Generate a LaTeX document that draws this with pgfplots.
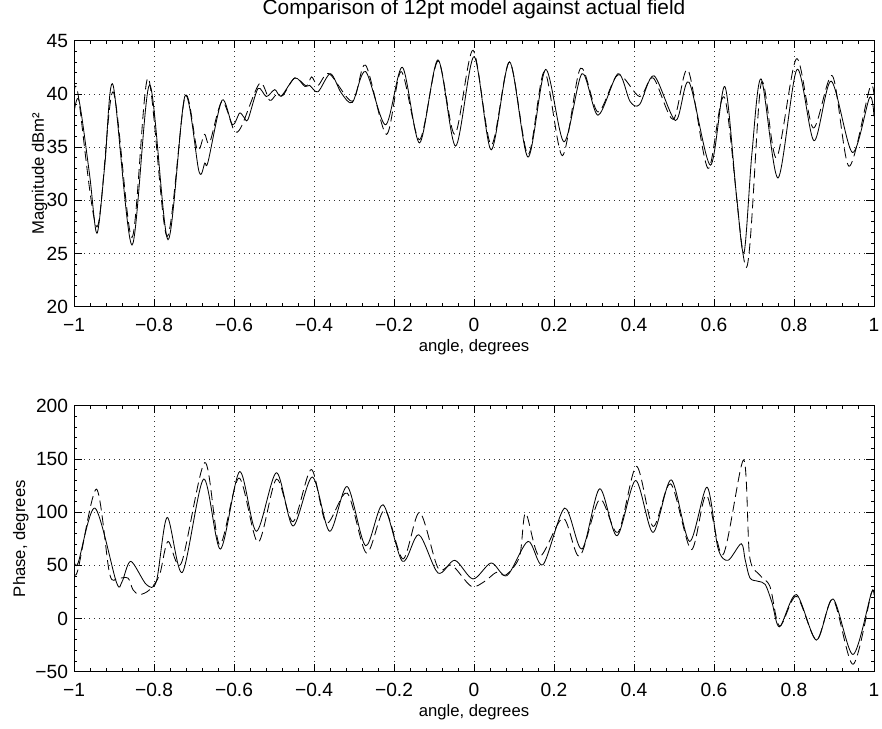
\documentclass[border=0pt]{standalone}
\usepackage{fontspec}
\setmainfont{Liberation Sans}
\usepackage{pgfplots}
\pgfplotsset{compat=1.18}

% 1 px of the reference = 0.6pt
\newcommand{\ffont}{\fontsize{11.5}{13.5}\selectfont}
\newcommand{\lfont}{\fontsize{12}{14}\selectfont}
\pgfplotsset{
  mat/.style={
    width=480pt, height=159.6pt, scale only axis,
    xmin=-1, xmax=1,
    xtick={-1,-0.8,-0.6,-0.4,-0.2,0,0.2,0.4,0.6,0.8,1},
    xticklabels={−1,−0.8,−0.6,−0.4,−0.2,0,0.2,0.4,0.6,0.8,1},
    /pgf/number format/assume math mode=true,
    tick align=inside,
    major tick length=4.6pt,
    minor tick length=2pt,
    minor tick num=4,
    grid=major,
    major grid style={black!80, line width=0.4pt, dash pattern=on 0.6pt off 2.4pt},
    axis line style={line width=0.5pt},
    every tick/.style={black, line width=0.4pt},
    tick label style={font=\ffont},
    label style={font=\lfont},
    title style={font=\fontsize{12.5}{14}\selectfont, inner sep=0pt, at={(axis description cs:0.5,1.0627)}, anchor=base},
    xticklabel style={anchor=base, yshift=-15pt},
    yticklabel style={anchor=east, inner sep=0pt, xshift=-3.4pt},
    every axis x label/.style={at={(axis description cs:0.5,-0.1692)}, anchor=base, inner sep=0pt},
    xlabel={angle, degrees},
  },
  solidc/.style={black, line width=0.5pt, mark=none, smooth},
  dashc/.style={black, line width=0.5pt, mark=none, smooth, dash pattern=on 6pt off 3pt},
}

\begin{document}
\begin{tikzpicture}
\path[use as bounding box] (-44.4pt,24.42pt) rectangle (484.8pt,-412.38pt);

\begin{axis}[mat,
  at={(0,0)}, anchor=north west,
  ymin=20, ymax=45, ytick={20,25,30,35,40,45},
  title={Comparison of 12pt model against actual field},
  every axis y label/.style={at={(axis description cs:-0.0375,0.5)}, anchor=base, rotate=90, inner sep=0pt},
  ylabel={Magnitude dBm²},
]
\addplot[solidc] coordinates {
(-1,38.2) (-0.9875,39.4) (-0.961,32.4) (-0.9425,26.9) (-0.923,33.3) (-0.9025,40.85)
(-0.855,25.8) (-0.811,40.85) (-0.765,26.3) (-0.7225,39.8) (-0.6875,32.7)
(-0.673,33.5) (-0.665,33.6) (-0.63,39.4) (-0.604,37.1) (-0.586,38.2) (-0.575,37.8)
(-0.565,37.6) (-0.54,40.5) (-0.519,39.75) (-0.498,40.4) (-0.482,39.8) (-0.448,41.5)
(-0.423,40.7) (-0.411,40.8) (-0.39,40.2) (-0.359,41.9) (-0.332,40.1) (-0.304,39.2)
(-0.271,42.1) (-0.221,37.1) (-0.179,42.5) (-0.136,35.4) (-0.09,43.2) (-0.046,35.1)
(0,43.5) (0.043,34.75) (0.089,43.0) (0.135,34.06) (0.179,42.3) (0.225,35.5)
(0.27,41.9) (0.31,38.0) (0.36,41.9) (0.39,39.3) (0.414,39.0) (0.45,41.7)
(0.504,37.5) (0.5375,41.1) (0.591,33.3) (0.627,40.7) (0.656,30.5) (0.675,25.06)
(0.695,34.5) (0.718,41.4) (0.76,32.1) (0.8075,42.3) (0.85,35.6) (0.893,41.2)
(0.946,34.5) (0.989,39.66) (1,37.9)
};
\addplot[dashc] coordinates {
(-1,39.9) (-0.99,40.0) (-0.9425,27.5) (-0.9025,40.2) (-0.855,26.5) (-0.815,41.5)
(-0.7675,26.6) (-0.7225,39.75) (-0.692,34.75) (-0.674,36.2) (-0.661,35.4)
(-0.63,39.3) (-0.6,36.6) (-0.582,36.9) (-0.536,41.0) (-0.511,39.4) (-0.495,39.9)
(-0.478,39.85) (-0.448,41.5) (-0.419,40.75) (-0.406,41.6) (-0.39,40.8) (-0.362,41.9)
(-0.304,39.3) (-0.271,42.7) (-0.219,36.2) (-0.182,42.1) (-0.136,35.7) (-0.09,43.1)
(-0.048,36.2) (-0.0025,44.1) (0.043,35.2) (0.089,43.0) (0.135,34.3) (0.176,42.1)
(0.221,34.2) (0.266,42.4) (0.31,38.3) (0.36,41.8) (0.414,39.75) (0.448,41.5)
(0.498,37.6) (0.535,42.25) (0.585,33.0) (0.627,39.6) (0.681,23.7) (0.718,41.0)
(0.756,34.0) (0.806,43.3) (0.848,36.8) (0.896,41.7) (0.9375,33.2) (0.989,40.5) (1,39.9)
};
\end{axis}

\begin{axis}[mat,
  at={(0,-219pt)}, anchor=north west,
  ymin=-50, ymax=200, ytick={-50,0,50,100,150,200},
  yticklabels={−50,0,50,100,150,200},
  every axis y label/.style={at={(axis description cs:-0.0610,0.5)}, anchor=base, rotate=90, inner sep=0pt},
  ylabel={Phase, degrees},
]
\addplot[solidc] coordinates {
(-1,55) (-0.99,52) (-0.9475,103.75) (-0.894,34.1) (-0.88,34.5) (-0.858,53.75)
(-0.819,31.9) (-0.794,35) (-0.767,95) (-0.729,43.4) (-0.676,131) (-0.634,65.3)
(-0.586,138) (-0.544,82) (-0.494,137) (-0.4525,87) (-0.404,133) (-0.361,82)
(-0.317,124) (-0.271,68.4) (-0.2275,106.9) (-0.179,53.75) (-0.138,78.75)
(-0.09,42.8) (-0.048,54.7) (-0.0025,37.2) (0.043,52.2) (0.0825,40.3) (0.135,72.5)
(0.1725,50.6) (0.2267,103.75) (0.27,65.3) (0.314,121.9) (0.3575,77.8) (0.404,129.7)
(0.4475,81) (0.493,130.3) (0.539,72.5) (0.5825,123.4) (0.61,66) (0.635,54.7)
(0.668,70.3) (0.678,55) (0.69,38) (0.71,35) (0.728,32) (0.745,15) (0.764,-7.8)
(0.806,22.5) (0.856,-20.3) (0.8975,18.4) (0.9475,-33.75) (0.993,23.4) (1,22)
};
\addplot[dashc] coordinates {
(-1,43.5) (-0.99,46) (-0.944,121.6) (-0.911,42) (-0.89,38) (-0.865,38)
(-0.8525,27) (-0.836,22.5) (-0.811,27) (-0.786,41) (-0.765,72.5) (-0.7317,52)
(-0.673,146.6) (-0.636,69.4) (-0.5875,132) (-0.54,71.6) (-0.494,131) (-0.4525,91)
(-0.4067,140) (-0.369,89.7) (-0.317,117.8) (-0.269,61.6) (-0.2233,102) (-0.1775,56)
(-0.136,99.7) (-0.09,47.5) (-0.055,50) (-0.007,30.3) (0.027,35) (0.056,43.4)
(0.08,41) (0.114,58.4) (0.129,99) (0.164,58.4) (0.2225,94.4) (0.264,58.4)
(0.314,112) (0.36,81) (0.406,143) (0.4475,86.6) (0.4917,126.6) (0.543,64.7)
(0.5808,116) (0.6225,60) (0.674,149) (0.689,58.4) (0.714,41) (0.74,30)
(0.764,-7.2) (0.806,20.9) (0.856,-20) (0.8975,17.8) (0.9475,-43) (0.993,23.4) (1,22)
};
\end{axis}
\end{tikzpicture}
\end{document}
